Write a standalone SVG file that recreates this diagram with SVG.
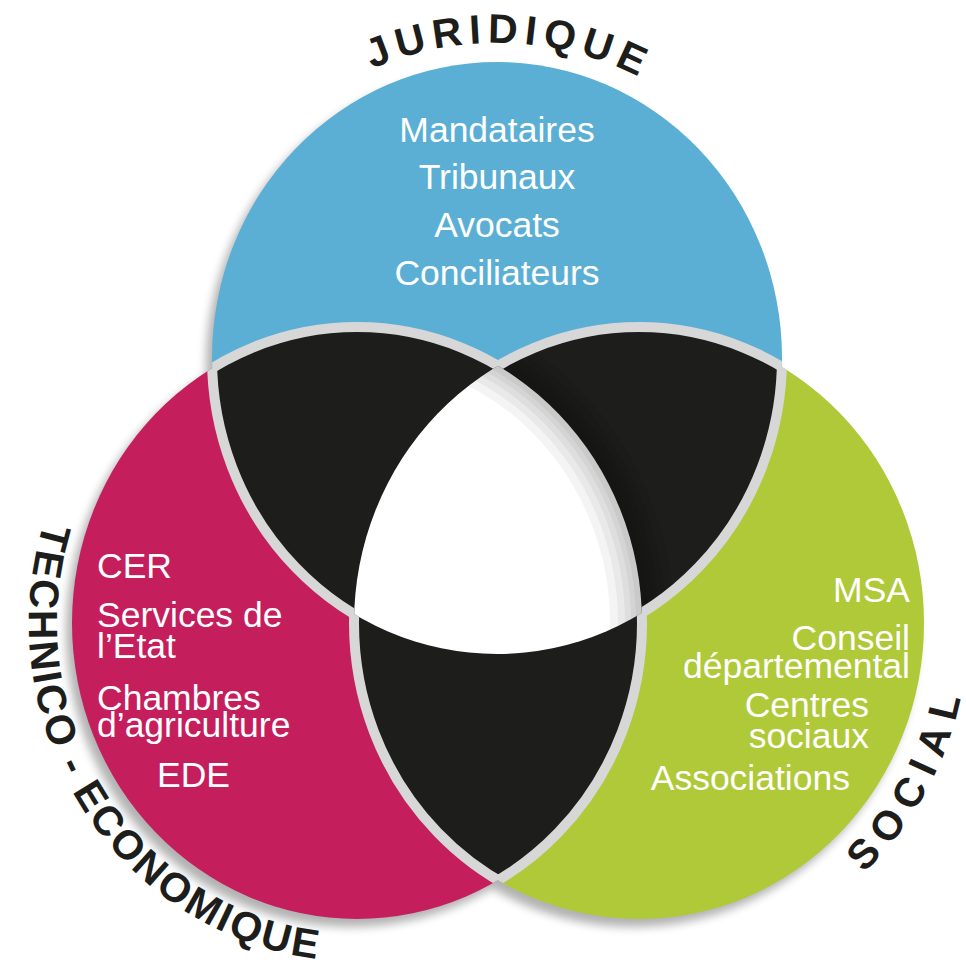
<svg xmlns="http://www.w3.org/2000/svg" xmlns:xlink="http://www.w3.org/1999/xlink" width="966" height="962" viewBox="0 0 966 962">
<defs>
<style>
.t{font-family:"Liberation Sans",Arial,sans-serif;font-size:35.5px;fill:#ffffff}
.lab{font-family:"Liberation Sans",Arial,sans-serif;font-weight:bold;font-size:41px;fill:#1d1d1b}
.band{fill:none;stroke:#d7d7d7;stroke-width:10}
.blk{fill:#1d1d1b}
.shd{fill:none;stroke:#000;stroke-opacity:0.045}
</style>
<ellipse id="eB" cx="497" cy="358" rx="285" ry="296"/>
<ellipse id="eR" cx="357" cy="623" rx="285" ry="296"/>
<ellipse id="eG" cx="639" cy="623" rx="285" ry="296"/>
<clipPath id="cB"><use href="#eB"/></clipPath>
<clipPath id="cR"><use href="#eR"/></clipPath>
<clipPath id="cG"><use href="#eG"/></clipPath>
<filter id="sh" x="-20%" y="-20%" width="140%" height="140%"><feGaussianBlur stdDeviation="5"/></filter>
<mask id="mRG" maskUnits="userSpaceOnUse" x="0" y="0" width="966" height="962">
<use href="#eR" fill="#fff"/><use href="#eG" fill="#fff"/>
<g clip-path="url(#cR)"><use href="#eG" fill="#000"/></g>
</mask>
<mask id="mBG" maskUnits="userSpaceOnUse" x="0" y="0" width="966" height="962">
<use href="#eB" fill="#fff"/><use href="#eG" fill="#fff"/>
<g clip-path="url(#cB)"><use href="#eG" fill="#000"/></g>
</mask>
<mask id="mBR" maskUnits="userSpaceOnUse" x="0" y="0" width="966" height="962">
<use href="#eB" fill="#fff"/><use href="#eR" fill="#fff"/>
<g clip-path="url(#cB)"><use href="#eR" fill="#000"/></g>
</mask>
<path id="pJ" d="M182,358 A315,315 0 0 1 812,358"/>
<path id="pT" d="M44,522 A328,338 0 0 0 469,941"/>
<path id="pS" d="M864,873 A330,342 0 0 0 964,564"/>
</defs>
<rect width="966" height="962" fill="#ffffff"/>

<g id="shadow" opacity="0.3" filter="url(#sh)" transform="translate(-6,8)">
<use href="#eB" fill="#000"/><use href="#eR" fill="#000"/><use href="#eG" fill="#000"/>
</g>

<g id="juridique">
<use href="#eB" fill="#5bafd4"/>
</g>
<g id="technico-economique">
<use href="#eR" fill="#c51e5c"/>
</g>
<g id="social">
<use href="#eG" fill="#afc939"/>
</g>

<g id="intersections">
<g clip-path="url(#cR)"><use href="#eB" class="blk"/></g>
<g clip-path="url(#cG)"><use href="#eB" class="blk"/></g>
<g clip-path="url(#cG)"><use href="#eR" class="blk"/></g>
<g clip-path="url(#cR)"><g clip-path="url(#cG)"><use href="#eB" fill="#ffffff"/></g></g>
<g clip-path="url(#cB)"><g clip-path="url(#cG)">
<use href="#eR" class="shd" stroke-width="64"/>
<use href="#eR" class="shd" stroke-width="48"/>
<use href="#eR" class="shd" stroke-width="34"/>
<use href="#eR" class="shd" stroke-width="22"/>
<use href="#eR" class="shd" stroke-width="12"/>
</g></g>
</g>

<g id="bands">
<use href="#eB" class="band" mask="url(#mRG)"/>
<use href="#eR" class="band" mask="url(#mBG)"/>
<use href="#eG" class="band" mask="url(#mBR)"/>
</g>

<g id="labels">
<text class="lab" letter-spacing="6.5"><textPath href="#pJ" startOffset="366">JURIDIQUE</textPath></text>
<text class="lab" letter-spacing="2.5"><textPath href="#pT" startOffset="0">TECHNICO - ECONOMIQUE</textPath></text>
<text class="lab" letter-spacing="9.6"><textPath href="#pS" startOffset="0">SOCIAL</textPath></text>
</g>

<g id="text-juridique" class="t" text-anchor="middle">
<text x="497" y="142">Mandataires</text>
<text x="497" y="189">Tribunaux</text>
<text x="497" y="237">Avocats</text>
<text x="497" y="285">Conciliateurs</text>
</g>

<g id="text-technico" class="t">
<text x="97" y="578">CER</text>
<text x="97" y="627">Services de</text>
<text x="97" y="658">l’Etat</text>
<text x="97" y="710">Chambres</text>
<text x="97" y="737">d’agriculture</text>
<text x="157" y="787">EDE</text>
</g>

<g id="text-social" class="t" text-anchor="end">
<text x="910" y="602">MSA</text>
<text x="910" y="650">Conseil</text>
<text x="910" y="678">départemental</text>
<text x="869" y="717">Centres</text>
<text x="869" y="748">sociaux</text>
<text x="850" y="790">Associations</text>
</g>
</svg>
